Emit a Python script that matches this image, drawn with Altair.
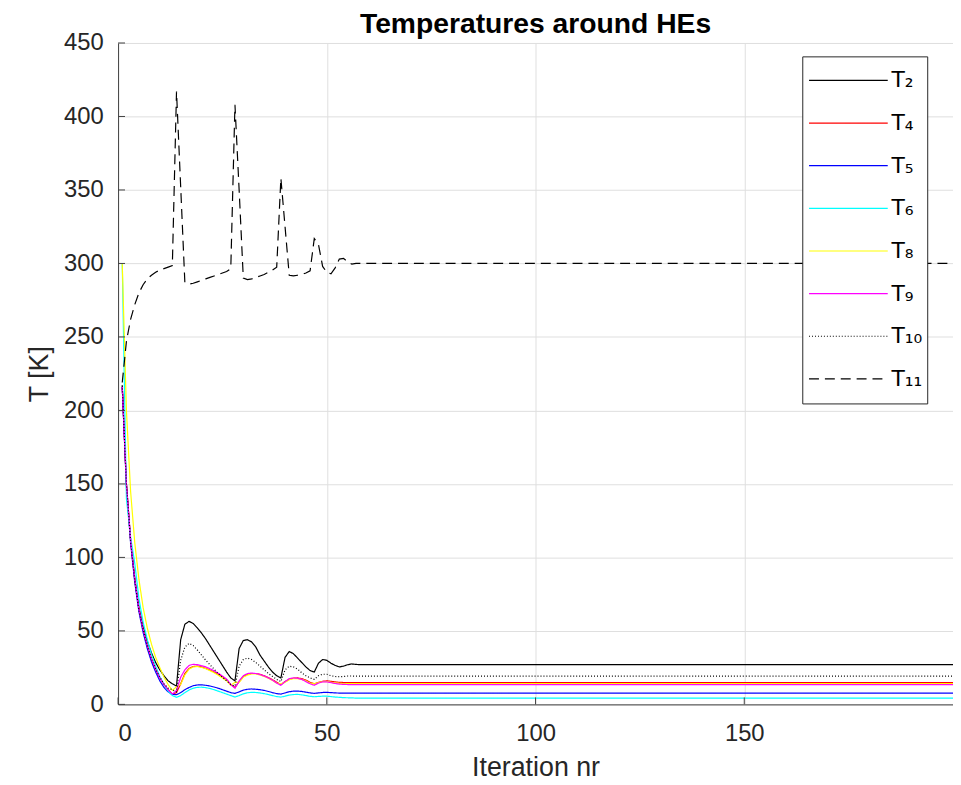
import altair as alt
import pandas as pd

iterations = list(range(1, 61)) + [200]

T2 = [217, 150, 112, 86, 66, 53, 43, 35, 28.5, 23.5, 19.5, 16, 14, 12.5, 44, 54.5, 56.5, 55, 52, 48.5,
      44.5, 40, 35.5, 31, 26.5, 22, 18, 16, 38, 43.5, 44, 42.5, 39, 33.5, 29.5, 25.5, 22, 19.5, 18, 32,
      36, 34.5, 31.5, 28.5, 25.5, 23, 22, 28, 30.5, 30, 28, 26.5, 25.5, 26, 27, 27.5, 27.2, 27, 27, 27, 27]
T4 = [216, 150, 112, 85, 65, 51, 40, 31, 24, 18, 13.5, 10, 7, 8, 14, 21, 24.5, 25.8, 26, 25.5,
      24.5, 23.3, 22, 20.5, 18.8, 16.8, 13.5, 11.5, 15.5, 19, 20.5, 21, 21, 20.5, 19.5, 18.2, 16.8, 15, 13.5, 15.5,
      17, 17.8, 18, 17.5, 16.5, 15, 14, 15, 15.7, 16, 15.7, 15.3, 15, 14.9, 14.8, 14.8, 14.8, 14.8, 14.8, 14.8, 14.8]
T5 = [216, 148, 110, 83, 63, 49, 38, 29, 22, 16, 11.5, 8.5, 6.8, 6.6, 8, 10, 11.5, 12.7, 13.2, 13.3,
      13, 12.5, 11.8, 11, 10, 9, 8, 7.5, 8.5, 9.7, 10.3, 10.5, 10.3, 10, 9.5, 8.8, 8, 7.3, 7, 7.8,
      8.6, 9, 9.1, 8.8, 8.3, 7.8, 7.5, 7.8, 8.1, 8.2, 8, 7.8, 7.7, 7.7, 7.7, 7.7, 7.7, 7.7, 7.7, 7.7, 7.7]
T6 = [300, 140, 114, 96, 72, 56, 44, 34, 26, 19, 13.5, 9, 6, 4.8, 6, 8, 9.8, 11, 11.6, 11.7,
      11.4, 10.8, 10, 9, 8, 7, 6, 5, 6, 7.2, 7.9, 8.2, 8.1, 7.8, 7.3, 6.7, 6, 5.3, 5, 5.6,
      6.3, 6.7, 6.8, 6.5, 6, 5.5, 5.2, 5.4, 5.6, 5.6, 5.3, 5, 4.8, 4.6, 4.5, 4.4, 4.3, 4.3, 4.3, 4.3, 4.3]
T8 = [300, 200, 145, 110, 85, 66, 52, 41, 32, 25, 18.5, 13.5, 9.5, 12, 13.5, 20, 24, 25.5, 25.8, 25.2,
      24.3, 23, 21.5, 19.8, 18, 16, 13, 15, 15, 18.5, 20, 20.8, 20.7, 20, 19, 17.8, 16.3, 14.5, 14, 15,
      16.8, 17.5, 17.6, 17, 16, 14.5, 14, 14.8, 15.4, 15.5, 15, 14.6, 14.3, 14.2, 14.2, 14.2, 14.2, 14.2, 14.2, 14.2, 14.2]
T9 = [216, 150, 112, 85, 65, 51, 40, 31, 24, 18, 13.5, 10, 7, 9.5, 18.5, 23.5, 26.5, 27.3, 27, 26.3,
      25.5, 24.3, 22.8, 21.2, 19.3, 17.2, 13.5, 11, 16, 19.5, 21, 21.3, 21, 20.3, 19.3, 18, 16.5, 14.5, 13, 15.5,
      17.5, 18, 17.8, 17, 15.5, 14, 13, 14.5, 15.3, 15.3, 14.8, 14.2, 13.8, 13.6, 13.5, 13.4, 13.4, 13.4, 13.4, 13.4, 13.4]
T10 = [217, 150, 111, 84, 64, 51, 40, 31, 24, 18.5, 14, 11, 10, 8.5, 30, 39, 41.5, 40, 37, 33.5,
       30, 27, 24, 21, 18.5, 16, 13.5, 12.5, 26, 30.5, 31.5, 30.5, 28.5, 26, 23.5, 21, 19, 17, 15.5, 23.5,
       26, 25.5, 24, 21.5, 19.5, 18, 17, 19.5, 20.5, 20.5, 19.5, 19, 18.8, 19, 19.3, 19.3, 19.2, 19.2, 19.2, 19.2, 19.2]
T11 = [219, 247, 262, 272, 280, 285.5, 289.5, 292, 294, 295.5, 296.5, 297.5, 298.5, 417, 352, 287, 286, 286.5, 287.5, 288.5,
       289.5, 290.5, 291.5, 292.5, 293.5, 294.5, 296.5, 408, 350, 290, 289, 289.5, 290.5, 291.5, 292.5, 294, 295.5, 297.5, 358, 325,
       292, 291.5, 292, 292.5, 293.5, 295, 317, 313, 298, 294, 293, 297, 303, 303.5, 301, 299.5, 300, 300, 300, 300, 300]

series_names = ["T₂", "T₄", "T₅", "T₆", "T₈", "T₉", "T₁₀", "T₁₁"]
series_values = [T2, T4, T5, T6, T8, T9, T10, T11]
series_colors = ["#000000", "#ff0000", "#0000ff", "#00ffff", "#ffff00", "#ff00ff", "#000000", "#000000"]
series_dash = [[1, 0], [1, 0], [1, 0], [1, 0], [1, 0], [1, 0], [1, 2], [10, 6]]

y_ticks = [0, 50, 100, 150, 200, 250, 300, 350, 400, 450]
x_ticks = [0, 50, 100, 150]

rows = []
for k, (name, vals) in enumerate(zip(series_names, series_values)):
    for it, v in zip(iterations, vals):
        rows.append({"iteration": it, "T": v, "series": name, "order": k})
df = pd.DataFrame(rows)

FONT = "Liberation Sans"
LFONT = "DejaVu Sans"
xscale = alt.Scale(domain=[0, 200], nice=False, zero=False)
yscale = alt.Scale(domain=[0, 450], nice=False)

legend = alt.Legend(title=None, orient="none", legendX=690, legendY=13.5,
                    symbolType="stroke", symbolSize=6300, symbolStrokeWidth=1.2,
                    clipHeight=40.5, rowPadding=2, padding=4, labelFontSize=22,
                    labelFont=LFONT, labelColor="black", labelOffset=3,
                    labelBaseline="middle", strokeColor="#262626",
                    fillColor="white", symbolOffset=2,
                    labelExpr="datum.label + '\u2007\u2007'")

lines = alt.Chart(df).mark_line(strokeWidth=1.2, clip=True).encode(
    x=alt.X("iteration:Q", scale=xscale,
            axis=alt.Axis(values=x_ticks, title="Iteration nr", ticks=False, labelPadding=17,
                          titleY=72, titleBaseline="alphabetic")),
    y=alt.Y("T:Q", scale=yscale,
            axis=alt.Axis(values=y_ticks, title="T [K]", ticks=False, labelPadding=15,
                          titleX=-79, titleY=333.5, titleBaseline="middle")),
    color=alt.Color("series:N", sort=series_names,
                    scale=alt.Scale(domain=series_names, range=series_colors),
                    legend=legend),
    strokeDash=alt.StrokeDash("series:N", sort=series_names,
                              scale=alt.Scale(domain=series_names, range=series_dash),
                              legend=legend),
    order=alt.Order("order:Q"),
    detail="series:N",
)

ytick_df = pd.DataFrame({"T": y_ticks})
xtick_df = pd.DataFrame({"iteration": x_ticks})

yticks_layer = alt.Chart(ytick_df).mark_rule(color="#404040", strokeWidth=1).encode(
    y=alt.Y("T:Q", scale=yscale), x=alt.value(0), x2=alt.value(7))
xticks_layer = alt.Chart(xtick_df).mark_rule(color="#404040", strokeWidth=1).encode(
    x=alt.X("iteration:Q", scale=xscale), y=alt.value(667), y2=alt.value(660))

chart = alt.layer(lines, yticks_layer, xticks_layer).properties(
    width=842, height=667,
    title=alt.TitleParams("Temperatures around HEs", fontSize=28.5, fontWeight="bold", font=FONT,
                          anchor="middle", offset=4, dy=11, color="black"),
    autosize=alt.AutoSizeParams(type="none"),
    padding={"left": 111, "top": 32, "right": 0, "bottom": 77},
).configure_view(stroke=None).configure_axis(
    labelFont=FONT, titleFont=FONT, labelFontSize=24, titleFontSize=27,
    labelColor="#262626", titleColor="#262626", titleFontWeight="normal",
    domainColor="#404040", domainWidth=1, gridColor="#dfdfdf", gridWidth=1,
)

chart.save("out.html", embed_options={"renderer": "svg", "actions": False})
